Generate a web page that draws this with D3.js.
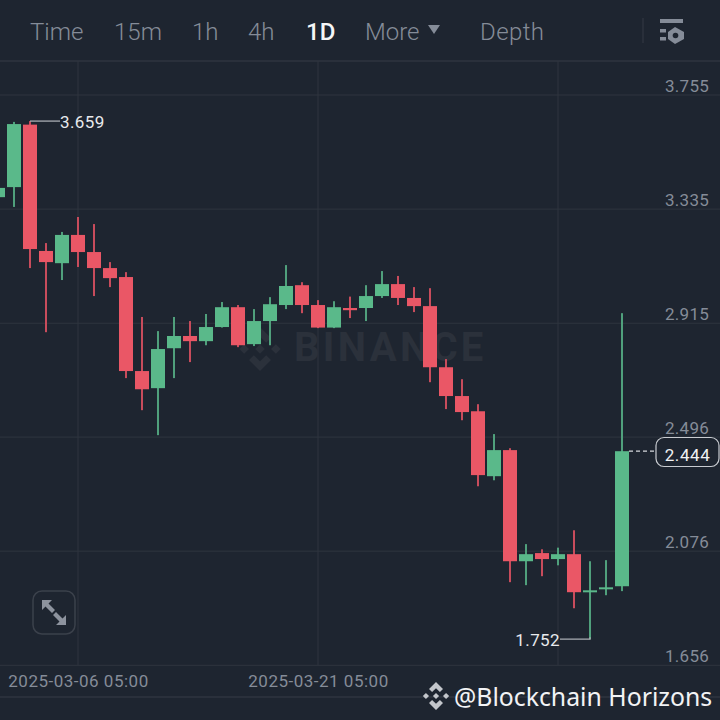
<!DOCTYPE html>
<html>
<head>
<meta charset="utf-8">
<script src="https://cdn.jsdelivr.net/npm/d3@7"></script>
<style>
html, body { margin: 0; padding: 0; background: #1e2530; }
svg { display: block; }
text { font-family: Roboto, sans-serif; }
</style>
</head>
<body>
<svg id="chart" width="720" height="720"></svg>
<script>
// daily candles, first one is 2025-03-01 (cut by the left edge)
var opens = [3.379, 3.416, 3.646, 3.181, 3.136, 3.240, 3.177, 3.118, 3.085, 2.739,
	2.676, 2.823, 2.868, 2.849, 2.901, 2.974, 2.838, 2.923, 2.982, 3.055,
	2.982, 2.899, 2.971, 2.971, 3.015, 3.059, 3.008, 2.978, 2.753, 2.647,
	2.591, 2.352, 2.448, 2.039, 2.069, 2.047, 2.065, 1.925, 1.936, 1.947];
var highs = [3.413, 3.656, 3.659, 3.210, 3.251, 3.306, 3.280, 3.140, 3.103, 2.938,
	2.886, 2.938, 2.923, 2.949, 2.993, 2.982, 2.967, 3.011, 3.129, 3.066,
	3.000, 2.996, 3.013, 3.055, 3.107, 3.089, 3.048, 3.044, 2.783, 2.709,
	2.617, 2.507, 2.455, 2.102, 2.083, 2.089, 2.153, 2.039, 2.043, 2.952];
var lows = [3.379, 3.343, 3.118, 2.882, 3.074, 3.122, 3.015, 3.048, 2.713, 2.595,
	2.503, 2.713, 2.772, 2.834, 2.899, 2.827, 2.831, 2.834, 2.967, 2.952,
	2.897, 2.897, 2.934, 2.923, 3.008, 2.982, 2.956, 2.698, 2.599, 2.558,
	2.315, 2.337, 1.962, 1.951, 1.984, 2.024, 1.866, 1.752, 1.914, 1.929];
var closes = [3.413, 3.648, 3.188, 3.140, 3.240, 3.177, 3.118, 3.081, 2.739, 2.672,
	2.820, 2.868, 2.849, 2.901, 2.974, 2.834, 2.923, 2.985, 3.052, 2.982,
	2.899, 2.974, 2.963, 3.015, 3.059, 3.008, 2.978, 2.753, 2.647, 2.588,
	2.356, 2.448, 2.039, 2.065, 2.047, 2.065, 1.925, 1.932, 1.943, 2.444];

var priceTicks = [3.755, 3.335, 2.915, 2.496, 2.076, 1.656];
var dateTickIndex = [5, 20, 35];
var dateTickLabels = ["2025-03-06 05:00", "2025-03-21 05:00", ""];
var menuLabels = ["Time", "15m", "1h", "4h", "1D", "More", "Depth"];
var menuX = [30, 114, 192, 248, 306, 365, 480];

var width = 720, height = 720;
var bg = "#1e2530", gridColor = "#2f353f", textGrey = "#858c98";
var upColor = "#5ab98a", downColor = "#ea5766", upWick = "#50a07c", downWick = "#c84c5c";

var svg = d3.select("#chart");
svg.append("rect").attr("width", width).attr("height", height).attr("fill", bg);

// scales: one candle every 16px, price grid every 114px
var x = d3.scaleLinear().domain([0, 40]).range([-2, 638]);
var y = d3.scaleLinear().domain([3.755, 1.656]).range([95, 665.3]);

// grid
svg.append("g").selectAll("line").data(priceTicks).join("line")
	.attr("x1", 0).attr("x2", width)
	.attr("y1", function(d) { return y(d); }).attr("y2", function(d) { return y(d); })
	.attr("stroke", gridColor).attr("stroke-width", 1);
svg.append("g").selectAll("line").data(dateTickIndex).join("line")
	.attr("x1", function(d) { return x(d); }).attr("x2", function(d) { return x(d); })
	.attr("y1", 61).attr("y2", 665)
	.attr("stroke", gridColor).attr("stroke-width", 1);
[61, 697].forEach(function(yy) {
	svg.append("line").attr("x1", 0).attr("x2", width).attr("y1", yy).attr("y2", yy)
		.attr("stroke", gridColor).attr("stroke-width", 1.5);
});

// Binance logo: four chevrons and a centre diamond, in -1..1 units
var logoPaths = [
	"M0,-.22L.22,0L0,.22L-.22,0Z",
	"M-.72,-.22L-.5,0L-.72,.22L-.94,0Z",
	"M.72,-.22L.94,0L.72,.22L.5,0Z",
	"M0,-1L.5,-.5L.28,-.28L0,-.56L-.28,-.28L-.5,-.5Z",
	"M0,1L.5,.5L.28,.28L0,.56L-.28,.28L-.5,.5Z"
];
function addLogo(cx, cy, size, color) {
	var g = svg.append("g").attr("transform", "translate(" + cx + "," + cy + ") scale(" + size + ")");
	g.selectAll("path").data(logoPaths).join("path").attr("d", function(d) { return d; }).attr("fill", color);
}

// watermark in the middle
addLogo(260, 349, 22, "#2b313b");
svg.append("text").attr("x", 294).attr("y", 361).attr("font-size", 40).attr("font-weight", 700)
	.attr("letter-spacing", 3.3).attr("fill", "#2b313b").text("BINANCE");

// candles
var candles = svg.append("g").selectAll("g").data(opens).join("g");
candles.append("rect")
	.attr("x", function(d, i) { return x(i) - 1; })
	.attr("width", 2)
	.attr("y", function(d, i) { return y(highs[i]); })
	.attr("height", function(d, i) { return y(lows[i]) - y(highs[i]); })
	.attr("fill", function(d, i) { return closes[i] >= opens[i] ? upWick : downWick; });
candles.append("rect")
	.attr("x", function(d, i) { return x(i) - 7; })
	.attr("width", 14)
	.attr("y", function(d, i) { return y(Math.max(opens[i], closes[i])); })
	.attr("height", function(d, i) { return Math.max(2, Math.abs(y(opens[i]) - y(closes[i]))); })
	.attr("fill", function(d, i) { return closes[i] >= opens[i] ? upColor : downColor; });

// price axis, labels sit just above their grid line
var yAxis = svg.append("g").attr("transform", "translate(709,0)")
	.call(d3.axisLeft(y).tickValues(priceTicks).tickSize(0).tickFormat(d3.format(".3f")));
yAxis.select(".domain").remove();
yAxis.selectAll("text").attr("x", 0).attr("dy", -4).attr("text-anchor", "end")
	.attr("font-size", 17).attr("letter-spacing", 0.25)
	.style("font-family", "Roboto, sans-serif").attr("fill", textGrey);

// date axis
var xAxis = svg.append("g").attr("transform", "translate(0,681)")
	.call(d3.axisBottom(x).tickValues(dateTickIndex).tickSize(0)
		.tickFormat(function(d, i) { return dateTickLabels[i]; }));
xAxis.select(".domain").remove();
xAxis.selectAll("text").attr("y", 0).attr("dy", "0.35em").attr("text-anchor", "middle")
	.attr("font-size", 17).attr("letter-spacing", 0.5)
	.style("font-family", "Roboto, sans-serif").attr("fill", textGrey);

// high / low markers
var hiIdx = d3.maxIndex(highs), loIdx = d3.minIndex(lows);
svg.append("path").attr("fill", "none").attr("stroke", "#a9adb3").attr("stroke-width", 1.3)
	.attr("d", "M" + x(hiIdx) + "," + y(highs[hiIdx]) + "H60");
svg.append("text").attr("x", 60).attr("y", y(highs[hiIdx]) + 6.5).attr("font-size", 17)
	.attr("letter-spacing", 0.4).attr("fill", "#e8eaed").text(d3.format(".3f")(highs[hiIdx]));
svg.append("path").attr("fill", "none").attr("stroke", "#a9adb3").attr("stroke-width", 1.3)
	.attr("d", "M" + x(loIdx) + "," + (y(lows[loIdx]) - 2) + "V" + y(lows[loIdx]) + "H560");
svg.append("text").attr("x", 560).attr("y", y(lows[loIdx]) + 7).attr("text-anchor", "end")
	.attr("font-size", 17).attr("letter-spacing", 0.4).attr("fill", "#e8eaed").text(d3.format(".3f")(lows[loIdx]));

// last price tag
var last = closes[closes.length - 1];
svg.append("line").attr("x1", x(39) + 7).attr("x2", 656).attr("y1", y(last)).attr("y2", y(last))
	.attr("stroke", "#d5d8dc").attr("stroke-width", 1.2).attr("stroke-dasharray", "4 3");
svg.append("rect").attr("x", 656).attr("y", 437.5).attr("width", 63).attr("height", 29).attr("rx", 8)
	.attr("fill", bg).attr("stroke", "#c9ccd1").attr("stroke-width", 1.2);
svg.append("text").attr("x", 687.5).attr("y", 461).attr("text-anchor", "middle").attr("font-size", 17)
	.attr("letter-spacing", 0.6).attr("fill", "#f0f1f3").text(d3.format(".3f")(last));

// top menu
svg.append("g").selectAll("text").data(menuLabels).join("text")
	.attr("x", function(d, i) { return menuX[i]; }).attr("y", 40)
	.attr("font-size", 24)
	.attr("letter-spacing", function(d) { return d == "Depth" ? 0.4 : 0; })
	.attr("font-weight", function(d) { return d == "1D" ? 500 : 300; })
	.attr("fill", function(d) { return d == "1D" ? "#f5f6f7" : textGrey; })
	.text(function(d) { return d; });
svg.append("path").attr("d", "M428,25H440L434,34Z").attr("fill", textGrey);
svg.append("line").attr("x1", 643).attr("x2", 643).attr("y1", 18).attr("y2", 43).attr("stroke", "#343a44");

// settings icon
var icon = svg.append("g").attr("fill", textGrey);
icon.append("rect").attr("x", 660).attr("y", 19).attr("width", 23).attr("height", 4);
icon.append("rect").attr("x", 660).attr("y", 29).attr("width", 6).attr("height", 3.5);
icon.append("rect").attr("x", 660).attr("y", 37).attr("width", 6).attr("height", 3.5);
icon.append("path").attr("d", "M675,27L684,32V39L675,44L668,39V32Z");
svg.append("circle").attr("cx", 675.5).attr("cy", 35.5).attr("r", 2.8).attr("fill", bg);

// expand button
svg.append("rect").attr("x", 33).attr("y", 591).attr("width", 42).attr("height", 43).attr("rx", 9)
	.attr("fill", bg).attr("stroke", "#3b414b").attr("stroke-width", 1.5);
svg.append("path").attr("fill", "#8d939e")
	.attr("d", "M42,600H52L48.5,603.5L55,610L52,613L45.5,606.5L42,610Z M66,625H56L59.5,621.5L53,615L56,612L62.5,618.5L66,615Z");

// source credit, bottom right
addLogo(436, 696, 14, "#c3c6cb");
svg.append("text").attr("x", 454).attr("y", 706).attr("font-size", 24.8).attr("fill", "#f2f3f5")
	.style("font-family", "'Noto Sans', sans-serif").text("@Blockchain Horizons");
</script>
</body>
</html>
